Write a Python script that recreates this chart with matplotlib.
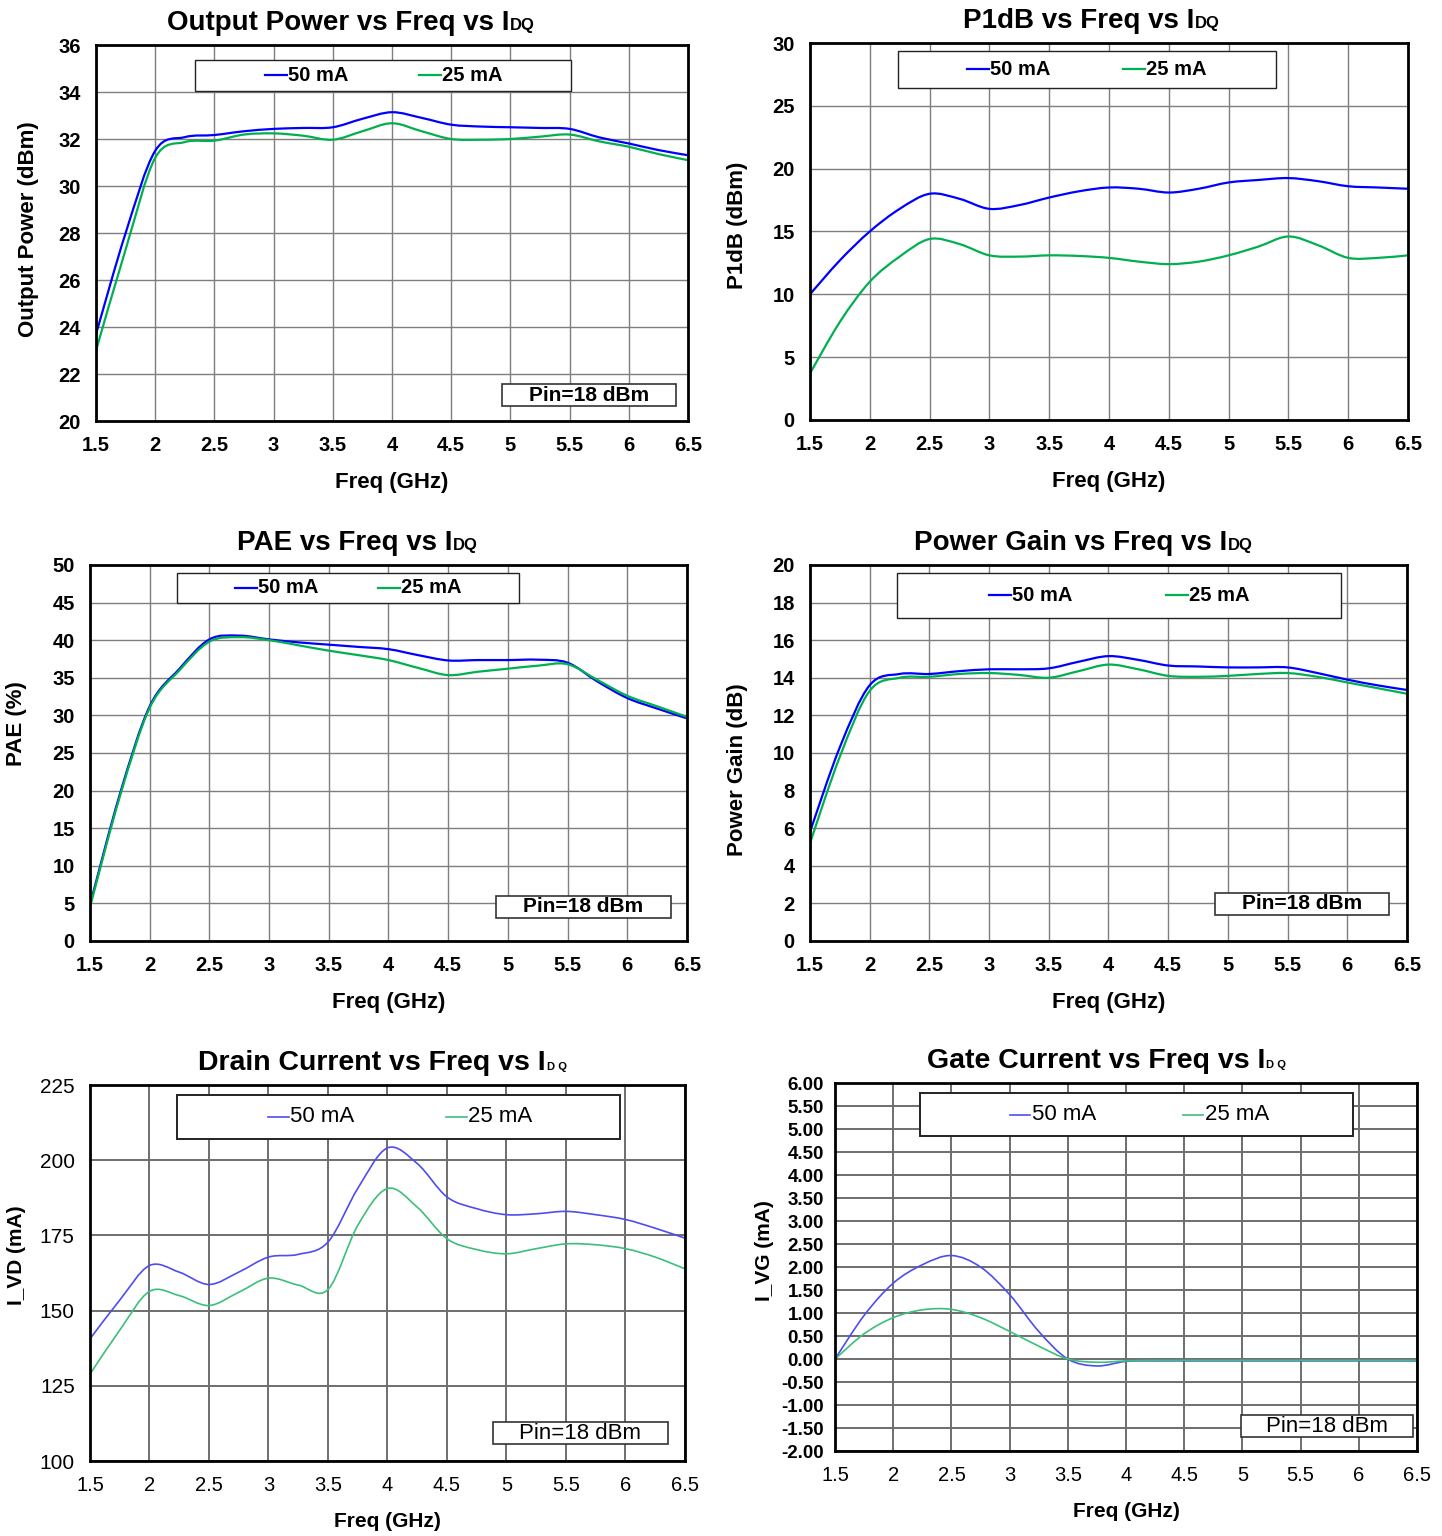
"""
Six-panel RF performance sheet: Pout, P1dB, PAE, gain, drain and gate current
versus frequency for two quiescent drain currents.
"""

import matplotlib
matplotlib.use('Agg')
import matplotlib.pyplot as plt
from matplotlib.patches import Rectangle, PathPatch
from matplotlib.lines import Line2D
from matplotlib.path import Path

plt.rcParams['font.family'] = ['Liberation Sans', 'DejaVu Sans']

# ---- data (GHz on x) ----
freq = [1.5, 1.75, 2.0, 2.25, 2.5, 2.75, 3.0, 3.25, 3.5, 3.75, 4.0,
        4.25, 4.5, 4.75, 5.0, 5.25, 5.5, 5.75, 6.0, 6.25, 6.5]
series_labels = ['50 mA', '25 mA']

pout_50 = [23.7, 28.0, 31.5, 32.08, 32.17, 32.33, 32.43, 32.47, 32.5, 32.86, 33.14,
           32.9, 32.61, 32.53, 32.5, 32.47, 32.43, 32.07, 31.81, 31.53, 31.31]
pout_25 = [23.0, 27.3, 31.2, 31.87, 31.93, 32.19, 32.24, 32.14, 31.97, 32.33, 32.67,
           32.33, 32.0, 31.97, 32.0, 32.1, 32.19, 31.9, 31.67, 31.36, 31.1]

p1db_50 = [10.0, 12.7, 15.0, 16.8, 18.0, 17.6, 16.8, 17.1, 17.7, 18.2, 18.5,
           18.4, 18.1, 18.4, 18.9, 19.1, 19.25, 19.0, 18.6, 18.5, 18.4]
p1db_25 = [3.7, 7.8, 11.0, 13.0, 14.4, 14.0, 13.1, 13.0, 13.1, 13.05, 12.9,
           12.6, 12.4, 12.6, 13.1, 13.8, 14.6, 13.9, 12.9, 12.9, 13.1]

pae_50 = [4.8, 19.5, 31.2, 36.2, 40.1, 40.6, 40.1, 39.7, 39.4, 39.1, 38.8,
          38.0, 37.3, 37.35, 37.35, 37.4, 37.0, 34.5, 32.3, 30.9, 29.6]
pae_25 = [4.5, 19.2, 31.0, 36.0, 39.8, 40.4, 40.0, 39.3, 38.6, 38.0, 37.35,
          36.3, 35.35, 35.8, 36.2, 36.6, 36.8, 34.7, 32.6, 31.2, 29.8]

gain_50 = [5.8, 10.3, 13.6, 14.2, 14.2, 14.35, 14.45, 14.45, 14.5, 14.85, 15.15,
           14.95, 14.65, 14.6, 14.55, 14.55, 14.55, 14.25, 13.9, 13.6, 13.35]
gain_25 = [5.2, 9.8, 13.3, 14.0, 14.05, 14.2, 14.25, 14.15, 14.0, 14.35, 14.7,
           14.45, 14.1, 14.05, 14.1, 14.2, 14.25, 14.05, 13.75, 13.45, 13.15]

ivd_50 = [140.6, 153.5, 165.0, 162.8, 158.7, 162.8, 167.8, 168.7, 172.8, 190.6, 204.1,
          198.9, 187.8, 183.9, 181.9, 182.2, 183.0, 181.9, 180.3, 177.4, 174.1]
ivd_25 = [128.9, 143.5, 156.4, 155.0, 151.7, 156.1, 160.8, 158.5, 157.0, 178.3, 190.6,
          184.4, 173.9, 170.3, 168.9, 170.6, 172.2, 171.9, 170.6, 167.8, 163.9]

ivg_50 = [0.0, 0.95, 1.65, 2.05, 2.25, 2.0, 1.4, 0.6, 0.0, -0.15, -0.05,
          -0.04, -0.04, -0.04, -0.04, -0.04, -0.04, -0.04, -0.04, -0.04, -0.04]
ivg_25 = [0.0, 0.55, 0.9, 1.07, 1.08, 0.9, 0.6, 0.28, 0.0, -0.07, -0.04,
          -0.03, -0.03, -0.03, -0.03, -0.03, -0.03, -0.03, -0.03, -0.03, -0.03]

freq_ticks = [1.5, 2, 2.5, 3, 3.5, 4, 4.5, 5, 5.5, 6, 6.5]

# ---- panel layout ----
PANELS = [
    dict(rect=[0.0666, 0.7259, 0.4105, 0.2448], y=(pout_50, pout_25), ylim=(20, 36), ystep=2,
         ylabel='Output Power (dBm)', ylab_xy=(-0.096, 0.51),
         title='Output Power vs Freq vs I', title_x=0.12,
         legend_box=(0.167, 0.878, 0.635, 0.082), legend_y=0.919,
         legend_x=(0.2855, 0.5456), pin=(0.686, 0.04, 0.294, 0.058), old=False),
    dict(rect=[0.5617, 0.7266, 0.4147, 0.2454], y=(p1db_50, p1db_25), ylim=(0, 30), ystep=5,
         ylabel='P1dB (dBm)', ylab_xy=(-0.104, 0.517),
         title='P1dB vs Freq vs I', title_x=0.256,
         legend_box=(0.147, 0.881, 0.632, 0.098), legend_y=0.930,
         legend_x=(0.2625, 0.5234), pin=None, old=False),
    dict(rect=[0.0624, 0.3874, 0.4140, 0.2448], y=(pae_50, pae_25), ylim=(0, 50), ystep=5,
         ylabel='PAE (%)', ylab_xy=(-0.106, 0.577),
         title='PAE vs Freq vs I', title_x=0.246,
         legend_box=(0.146, 0.899, 0.573, 0.080), legend_y=0.939,
         legend_x=(0.2429, 0.4824), pin=(0.68, 0.061, 0.293, 0.059), old=False),
    dict(rect=[0.5617, 0.3874, 0.4140, 0.2448], y=(gain_50, gain_25), ylim=(0, 20), ystep=2,
         ylabel='Power Gain (dB)', ylab_xy=(-0.104, 0.455),
         title='Power Gain vs Freq vs I', title_x=0.174,
         legend_box=(0.146, 0.859, 0.743, 0.120), legend_y=0.919,
         legend_x=(0.2998, 0.5963), pin=(0.678, 0.069, 0.292, 0.059), old=False),
    dict(rect=[0.0624, 0.0488, 0.4126, 0.2448], y=(ivd_50, ivd_25), ylim=(100, 225), ystep=25,
         ylabel='I_VD (mA)', ylab_xy=(-0.108, 0.548),
         title='Drain Current vs Freq vs I', title_x=0.182,
         legend_box=(0.146, 0.856, 0.745, 0.117), legend_y=0.915,
         legend_x=(0.2992, 0.5983), pin=(0.677, 0.045, 0.294, 0.059), old=True,
         yfmt='{:.0f}'),
    dict(rect=[0.5791, 0.0553, 0.4036, 0.2396], y=(ivg_50, ivg_25), ylim=(-2, 6), ystep=0.5,
         ylabel='I_VG (mA)', ylab_xy=(-0.105, 0.546),
         title='Gate Current vs Freq vs I', title_x=0.158,
         legend_box=(0.146, 0.856, 0.744, 0.117), legend_y=0.914,
         legend_x=(0.3007, 0.598), pin=(0.698, 0.038, 0.295, 0.060), old=True,
         yfmt='{:.2f}'),
]

NEW_COLORS = ['#0000FF', '#00B050']
OLD_COLORS = ['#4D4DF0', '#3CBF7A']


def smooth_path(xs, ys):
    """Excel-style smoothed polyline: Catmull-Rom segments as cubic Beziers."""
    pts = list(zip(xs, ys))
    n = len(pts)
    verts = [pts[0]]
    codes = [Path.MOVETO]
    for i in range(n - 1):
        p0 = pts[max(i - 1, 0)]
        p1 = pts[i]
        p2 = pts[i + 1]
        p3 = pts[min(i + 2, n - 1)]
        c1 = (p1[0] + (p2[0] - p0[0]) / 6, p1[1] + (p2[1] - p0[1]) / 6)
        c2 = (p2[0] - (p3[0] - p1[0]) / 6, p2[1] - (p3[1] - p1[1]) / 6)
        verts += [c1, c2, p2]
        codes += [Path.CURVE4] * 3
    return Path(verts, codes)


fig = plt.figure(figsize=(14.42, 15.36), dpi=100)

for p in PANELS:
    ax = fig.add_axes(p['rect'])
    old = p['old']
    colors = OLD_COLORS if old else NEW_COLORS
    lw = 1.2 if old else 1.6

    for vals, c in zip(p['y'], colors):
        ax.add_patch(PathPatch(smooth_path(freq, vals), fill=False, edgecolor=c,
                               linewidth=lw, zorder=3, capstyle='round'))

    lo, hi = p['ylim']
    n = int(round((hi - lo) / p['ystep']))
    yticks = [lo + i * p['ystep'] for i in range(n + 1)]
    ax.set_xlim(1.5, 6.5)
    ax.set_ylim(lo, hi)
    ax.set_xticks(freq_ticks)
    ax.set_yticks(yticks)
    ax.grid(True, color='#6E6E6E' if old else '#7F7F7F',
            linewidth=1.4 if old else 1.0, zorder=1)
    for s in ax.spines.values():
        s.set_linewidth(2.0)
        s.set_color('black')
        s.set_zorder(4)
    ax.tick_params(length=0, pad=11)
    ax.set_xticklabels([f'{t:g}' for t in freq_ticks])

    if old:
        for lab in ax.get_xticklabels():
            lab.set_fontsize(14.5)
        small = p['ystep'] < 1
        ax.set_yticklabels([p['yfmt'].format(t) for t in yticks],
                           fontsize=13.5 if small else 15,
                           fontweight='bold' if small else 'normal')
        ax.tick_params(axis='y', pad=8 if small else 11)
        ax.set_xlabel('Freq (GHz)', fontsize=15, fontweight='bold', labelpad=12)
        ax.set_ylabel(p['ylabel'], fontsize=15, fontweight='bold')
    else:
        ax.set_yticklabels([f'{t:g}' for t in yticks])
        for lab in ax.get_xticklabels() + ax.get_yticklabels():
            lab.set_fontsize(14.5)
            lab.set_fontweight('bold')
        ax.set_xlabel('Freq (GHz)', fontsize=16, fontweight='bold', labelpad=12)
        ax.set_ylabel(p['ylabel'], fontsize=16, fontweight='bold')
    ax.yaxis.set_label_coords(*p['ylab_xy'])

    # title with small "DQ" subscript sitting on the baseline
    tsize = 20.5 if old else 20
    main = ax.annotate(p['title'], xy=(p['title_x'], 1), xycoords='axes fraction',
                       xytext=(0, 10.5), textcoords='offset points',
                       ha='left', va='baseline', fontsize=tsize, fontweight='bold')
    ax.annotate('D Q' if old else 'DQ', xy=(1, 0), xycoords=main,
                xytext=(0.5, 4.3), textcoords='offset points',
                ha='left', va='baseline', fontsize=8 if old else 12,
                fontweight='bold')

    # legend box
    bx, by, bw, bh = p['legend_box']
    ax.add_patch(Rectangle((bx, by), bw, bh, transform=ax.transAxes,
                           facecolor='white', edgecolor='#222222',
                           linewidth=1.4 if old else 1.0, zorder=5))
    seg = 0.035 if old else 0.037
    for x0, lab, c in zip(p['legend_x'], series_labels, colors):
        ax.add_line(Line2D([x0, x0 + seg], [p['legend_y']] * 2, transform=ax.transAxes,
                           color=c, linewidth=lw, zorder=6))
        ax.text(x0 + seg + 0.002, p['legend_y'], lab, transform=ax.transAxes,
                ha='left', va='center', fontsize=16 if old else 14.5,
                fontweight='normal' if old else 'bold', zorder=6)

    # input drive annotation
    if p['pin'] is not None:
        px, py, pw, ph = p['pin']
        ax.add_patch(Rectangle((px, py), pw, ph, transform=ax.transAxes,
                               facecolor='white', edgecolor='#333333',
                               linewidth=1.2, zorder=5))
        ax.text(px + pw / 2, py + ph / 2, 'Pin=18 dBm', transform=ax.transAxes,
                ha='center', va='center', fontsize=16 if old else 15,
                fontweight='normal' if old else 'bold', zorder=6)

fig.savefig('out.png', dpi=100, facecolor='white')
